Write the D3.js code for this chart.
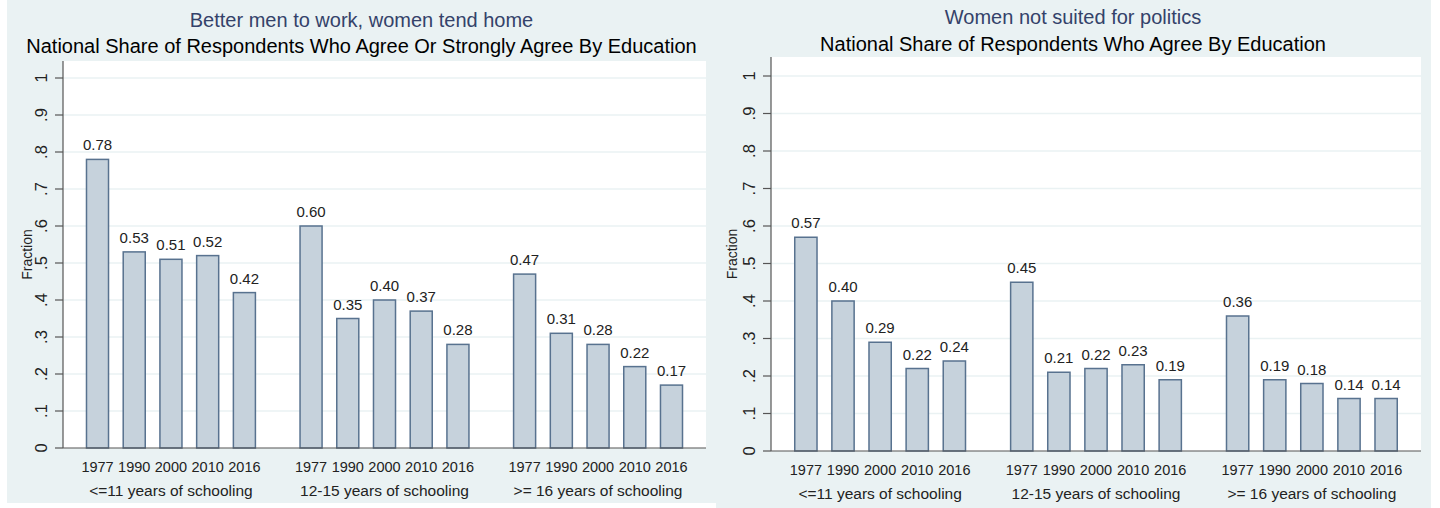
<!DOCTYPE html>
<html>
<head>
<meta charset="utf-8">
<script src="https://cdn.jsdelivr.net/npm/d3@7"></script>
<style>
  body { margin: 0; background: #fff; }
  svg { display: block; font-family: "Liberation Sans", Arial, sans-serif; }
</style>
</head>
<body>
<svg id="chart"></svg>
<script>
const width = 1440
const height = 508

// data
const years = ['1977', '1990', '2000', '2010', '2016']
const groups = ['<=11 years of schooling', '12-15 years of schooling', '>= 16 years of schooling']
const yTicks = [0, 0.1, 0.2, 0.3, 0.4, 0.5, 0.6, 0.7, 0.8, 0.9, 1]
const yTickLabels = ['0', '.1', '.2', '.3', '.4', '.5', '.6', '.7', '.8', '.9', '1']

const workHomeValues = [
  [0.78, 0.53, 0.51, 0.52, 0.42],
  [0.60, 0.35, 0.40, 0.37, 0.28],
  [0.47, 0.31, 0.28, 0.22, 0.17],
]
const politicsValues = [
  [0.57, 0.40, 0.29, 0.22, 0.24],
  [0.45, 0.21, 0.22, 0.23, 0.19],
  [0.36, 0.19, 0.18, 0.14, 0.14],
]

const panels = [
  {
    title: 'Better men to work, women tend home',
    subtitle: 'National Share of Respondents Who Agree Or Strongly Agree By Education',
    values: workHomeValues,
    bg: [7, 0, 709, 503],
    plot: { x0: 63, x1: 706, y0: 61, y1: 448, yTop: 78 },
    titleY: 27, subtitleY: 53, ytitleX: 32, tickX: 47,
  },
  {
    title: 'Women not suited for politics',
    subtitle: 'National Share of Respondents Who Agree By Education',
    values: politicsValues,
    bg: [716, 0, 715, 508],
    plot: { x0: 771, x1: 1421, y0: 57, y1: 451, yTop: 76 },
    titleY: 24, subtitleY: 51, ytitleX: 737, tickX: 755,
  },
]

const svg = d3.select('#chart').attr('width', width).attr('height', height)

const bgColor = '#eaf2f3'
const barFill = '#c6d2dc'
const barStroke = '#58728f'
const axisColor = '#555'

function drawPanel(p) {
  const g = svg.append('g')
  g.append('rect')
    .attr('x', p.bg[0]).attr('y', p.bg[1])
    .attr('width', p.bg[2]).attr('height', p.bg[3])
    .attr('fill', bgColor)

  const pl = p.plot
  g.append('rect')
    .attr('x', pl.x0).attr('y', pl.y0)
    .attr('width', pl.x1 - pl.x0).attr('height', pl.y1 - pl.y0)
    .attr('fill', '#fff')

  const y = d3.scaleLinear().domain([0, 1]).range([pl.y1, pl.yTop])
  const x0 = d3.scaleBand().domain(groups).range([pl.x0, pl.x1])
    .paddingInner(0.209).paddingOuter(0.11)
  const x1 = d3.scaleBand().domain(years).range([0, x0.bandwidth()])
    .paddingInner(0.4).paddingOuter(0)

  // gridlines
  g.append('g')
    .selectAll('line')
    .data(yTicks.slice(1))
    .join('line')
    .attr('x1', pl.x0).attr('x2', pl.x1)
    .attr('y1', (d) => y(d)).attr('y2', (d) => y(d))
    .attr('stroke', bgColor)
    .attr('stroke-width', 1.5)

  // bars
  groups.forEach((grp, gi) => {
    const gg = g.append('g').attr('transform', `translate(${x0(grp)},0)`)
    const data = years.map((yr, i) => ({ yr, v: p.values[gi][i] }))
    gg.selectAll('rect')
      .data(data)
      .join('rect')
      .attr('x', (d) => x1(d.yr))
      .attr('y', (d) => y(d.v))
      .attr('width', x1.bandwidth())
      .attr('height', (d) => y(0) - y(d.v))
      .attr('fill', barFill)
      .attr('stroke', barStroke)
      .attr('stroke-width', 1.5)
    gg.selectAll('text.val')
      .data(data)
      .join('text')
      .attr('class', 'val')
      .attr('x', (d) => x1(d.yr) + x1.bandwidth() / 2)
      .attr('y', (d) => y(d.v) - 9)
      .attr('text-anchor', 'middle')
      .attr('font-size', 15)
      .attr('fill', '#222')
      .text((d) => d3.format('.2f')(d.v))
    gg.selectAll('text.yr')
      .data(data)
      .join('text')
      .attr('class', 'yr')
      .attr('x', (d) => x1(d.yr) + x1.bandwidth() / 2)
      .attr('y', pl.y1 + 24)
      .attr('text-anchor', 'middle')
      .attr('font-size', 14.5)
      .attr('fill', '#222')
      .text((d) => d.yr)
    gg.append('text')
      .attr('x', x0.bandwidth() / 2)
      .attr('y', pl.y1 + 48)
      .attr('text-anchor', 'middle')
      .attr('font-size', 15.5)
      .attr('fill', '#222')
      .text(grp)
  })

  // axes
  g.append('line')
    .attr('x1', pl.x0).attr('x2', pl.x0)
    .attr('y1', pl.y0).attr('y2', pl.y1)
    .attr('stroke', axisColor).attr('stroke-width', 1.2)
  g.append('line')
    .attr('x1', pl.x0).attr('x2', pl.x1)
    .attr('y1', pl.y1).attr('y2', pl.y1)
    .attr('stroke', axisColor).attr('stroke-width', 1.2)
  g.append('g')
    .selectAll('line')
    .data(yTicks)
    .join('line')
    .attr('x1', pl.x0 - 8).attr('x2', pl.x0)
    .attr('y1', (d) => y(d)).attr('y2', (d) => y(d))
    .attr('stroke', axisColor).attr('stroke-width', 1.2)
  g.append('g')
    .selectAll('text')
    .data(yTicks)
    .join('text')
    .attr('transform', (d) => `translate(${p.tickX},${y(d)}) rotate(-90)`)
    .attr('text-anchor', 'middle')
    .attr('font-size', 16.5)
    .attr('fill', '#222')
    .text((d, i) => yTickLabels[i])
  g.append('text')
    .attr('transform', `translate(${p.ytitleX},${(pl.y0 + pl.y1) / 2}) rotate(-90)`)
    .attr('text-anchor', 'middle')
    .attr('font-size', 14)
    .attr('fill', '#222')
    .text('Fraction')

  const cx = (pl.x0 + pl.x1) / 2 - 23
  g.append('text')
    .attr('x', cx)
    .attr('y', p.titleY)
    .attr('text-anchor', 'middle')
    .attr('font-size', 20)
    .attr('fill', '#34426a')
    .text(p.title)
  g.append('text')
    .attr('x', cx)
    .attr('y', p.subtitleY)
    .attr('text-anchor', 'middle')
    .attr('font-size', 20)
    .attr('fill', '#000')
    .text(p.subtitle)
}

panels.forEach(drawPanel)
</script>
</body>
</html>
